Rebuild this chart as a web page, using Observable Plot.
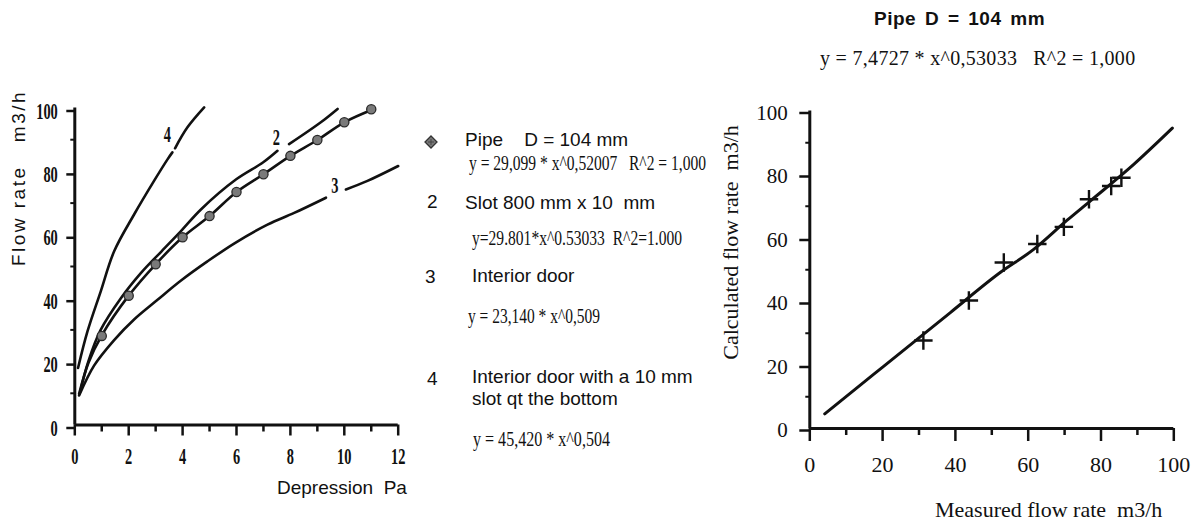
<!DOCTYPE html>
<html><head><meta charset="utf-8">
<script src="https://cdn.jsdelivr.net/npm/d3@7"></script>
<script src="https://cdn.jsdelivr.net/npm/@observablehq/plot@0.6"></script>
<style>
html,body{margin:0;padding:0;background:#fff;}
#page{position:relative;width:1195px;height:521px;overflow:hidden;background:#fff;}
#page svg.chart{position:absolute;top:0;}
.t{position:absolute;left:0;top:0;transform-origin:0 0;white-space:pre;line-height:1;color:#111;}
</style></head><body><div id="page"></div><script>
// ---------- Left chart data ----------
const depressionTicks = [0, 2, 4, 6, 8, 10, 12];
const depressionMinor = [1, 3, 5, 7, 9, 11];
const flowTicks = [0, 20, 40, 60, 80, 100];
const flowMinor = [10, 30, 50, 70, 90];

// Pipe D = 104 mm measured points
const pipeDepression = [1, 2, 3, 4, 5, 6, 7, 8, 9, 10, 11];
const pipeFlow = [28.1, 40.8, 50.7, 59.2, 65.9, 73.5, 79.1, 84.9, 89.9, 95.5, 99.6];
// Pipe fitted curve
const pipeCurveX = [0.16, 0.5, 1, 2, 3, 4, 5, 6, 7, 8, 9, 10, 11.1];
const pipeCurveY = [9.8, 19.5, 28.3, 40.8, 50.7, 59.2, 65.9, 73.5, 79.1, 84.9, 89.9, 95.5, 99.7];
// Curve 2: slot 800 mm x 10 mm (gap where label "2" sits)
const slotX = [0.2, 0.5, 0.96, 1.71, 2.45, 3.22, 3.93, 4.68, 5.99, 6.98, 7.52, 7.7, 7.95, 9.13, 9.75];
const slotY = [10.5, 20, 30, 40, 47.9, 54.8, 61.1, 68, 77.5, 82.8, 86.5, NaN, 88.6, 95.5, 99.7];
// Curve 3: interior door
const doorX = [0.16, 0.72, 1.46, 2.2, 3.07, 3.93, 4.92, 5.94, 7.15, 8.14, 9.32, 9.7, 10.06, 10.86, 12];
const doorY = [9.3, 18.8, 26.8, 33.3, 39.5, 45.5, 51.6, 57.4, 63.2, 66.9, 71.7, NaN, 74.3, 77, 81.7];
// Curve 4: interior door with a 10 mm slot at the bottom
const doorSlotX = [0.12, 0.47, 0.96, 1.46, 2.2, 2.94, 3.44, 3.62, 3.67, 3.72, 4.18, 4.8];
const doorSlotY = [18, 29.5, 42.1, 54.8, 66.4, 77, 83.8, 86, NaN, 87.3, 93.9, 100.2];
// Curve number labels
const curveLabels = ["4", "2", "3"];
const curveLabelX = [3.43, 7.48, 9.65];
const curveLabelY = [91.6, 90.8, 75.6];

// ---------- Right chart data ----------
const measuredTicks = [0, 20, 40, 60, 80, 100];
const measuredMinor = [10, 30, 50, 70, 90];
const calcTicks = [0, 20, 40, 60, 80, 100];
const calcMinor = [10, 30, 50, 70, 90];
const measured = [31.2, 43.7, 53.3, 62.5, 69.8, 76.7, 82.8, 85.6];
const calculated = [27.7, 40.3, 52.3, 58.1, 63.5, 72.2, 76.4, 79.0];
const fitX = [4.1, 17.6, 38.7, 52.4, 61.5, 70.7, 77.1, 89, 99.6];
const fitY = [4.6, 17.1, 36.6, 49.2, 56.4, 65.6, 71.7, 83.2, 94.6];

// ---------- helpers ----------
const SANS = '"Liberation Sans", Arial, sans-serif';
const SERIF = '"Liberation Serif", "Times New Roman", serif';
const page = document.getElementById("page");
const rows = (xs, ys) => xs.map((x, i) => ({x, y: ys[i]}));

function squeeze(svg, selector, s) {
  svg.querySelectorAll(selector).forEach(t => {
    const tr = t.getAttribute("transform") || "";
    const x = t.getAttribute("x");
    if (x != null) t.setAttribute("x", +x / s);
    t.setAttribute("transform", tr + ` scale(${s},1)`);
  });
}

function addText(str, o) {
  const d = document.createElement("div");
  d.className = "t";
  d.textContent = str;
  d.style.fontFamily = o.serif ? SERIF : SANS;
  d.style.fontSize = o.size + "px";
  if (o.weight) d.style.fontWeight = o.weight;
  if (o.ls) d.style.letterSpacing = o.ls + "px";
  if (o.ws) d.style.wordSpacing = o.ws + "px";
  page.appendChild(d);
  let sx = o.sx || 1;
  if (o.fit) sx = o.fit / d.getBoundingClientRect().width;
  const frac = o.anchor === "middle" ? 0.5 : o.anchor === "end" ? 1 : 0;
  const asc = o.serif ? 0.838 : 0.846;
  d.style.transform = `translate(${o.x}px, ${o.y}px) rotate(${o.rot || 0}deg) scale(${sx},1) translate(${-frac * 100}%, ${-asc}em)`;
  return d;
}

// ---------- Left chart ----------
const lineOpts = {x: "x", y: "y", stroke: "#111", strokeWidth: 2.6, curve: "catmull-rom"};
const leftSvg = Plot.plot({
  width: 410, height: 521,
  marginLeft: 74.3, marginRight: 12.3, marginTop: 107.5, marginBottom: 96.5,
  x: {domain: [0, 12]}, y: {domain: [0, 100]},
  style: {fontFamily: SERIF, color: "#111", background: "transparent", overflow: "visible"},
  marks: [
    Plot.axisX(depressionMinor, {tickSize: 7, strokeWidth: 2.5, tickFormat: () => "", label: null}),
    Plot.axisX(depressionTicks, {tickSize: 11, tickPadding: 11, strokeWidth: 2.5, fontSize: 24, fontWeight: "bold", label: null}),
    Plot.axisY(flowMinor, {tickSize: 4, strokeWidth: 2, tickFormat: () => "", label: null}),
    Plot.axisY(flowTicks, {tickSize: 8, tickPadding: 9, strokeWidth: 2.5, fontSize: 24, fontWeight: "bold", dy: 3, label: null}),
    Plot.ruleY([0], {strokeWidth: 3, stroke: "#111"}),
    Plot.ruleX([0], {strokeWidth: 3, stroke: "#111"}),
    Plot.line(rows(doorX, doorY), lineOpts),
    Plot.line(rows(doorSlotX, doorSlotY), lineOpts),
    Plot.line(rows(slotX, slotY), lineOpts),
    Plot.line(rows(pipeCurveX, pipeCurveY), lineOpts),
    Plot.dot(rows(pipeDepression, pipeFlow), {x: "x", y: "y", r: 4.6, fill: "#7a7a7a", stroke: "#2a2a2a", strokeWidth: 1.3}),
    Plot.text(curveLabels.map((t, i) => ({t, x: curveLabelX[i], y: curveLabelY[i]})),
      {x: "x", y: "y", text: "t", fontSize: 24, fontWeight: "bold", fill: "#111"})
  ]
});
leftSvg.classList.add("chart");
leftSvg.style.left = "0px";
squeeze(leftSvg, 'g[aria-label="x-axis tick label"] text, g[aria-label="y-axis tick label"] text, g[aria-label="text"] text', 0.6);
page.appendChild(leftSvg);

// ---------- Right chart ----------
const rightSvg = Plot.plot({
  width: 495, height: 521,
  marginLeft: 109.3, marginRight: 21.7, marginTop: 110.5, marginBottom: 93,
  x: {domain: [0, 100]}, y: {domain: [0, 100]},
  style: {fontFamily: SERIF, color: "#111", background: "transparent", overflow: "visible"},
  marks: [
    Plot.axisX(measuredMinor, {tickSize: 7, strokeWidth: 2.5, tickFormat: () => "", label: null}),
    Plot.axisX(measuredTicks, {tickSize: 13, tickPadding: 15, strokeWidth: 2.5, fontSize: 22, label: null}),
    Plot.axisY(calcMinor, {tickSize: 4, strokeWidth: 2, tickFormat: () => "", label: null}),
    Plot.axisY(calcTicks, {tickSize: 10, tickPadding: 12, strokeWidth: 2.5, fontSize: 21, dy: 2, label: null}),
    Plot.ruleY([0], {strokeWidth: 3, stroke: "#111"}),
    Plot.ruleX([0], {strokeWidth: 3, stroke: "#111"}),
    Plot.line(rows(fitX, fitY), {x: "x", y: "y", stroke: "#111", strokeWidth: 3, curve: "monotone-x"}),
    Plot.dot(rows(measured, calculated), {x: "x", y: "y", symbol: "plus", r: 6, stroke: "#111", strokeWidth: 2.4})
  ]
});
rightSvg.classList.add("chart");
rightSvg.style.left = "700px";
page.appendChild(rightSvg);

// ---------- Texts ----------
// left chart axis titles
addText("Flow rate   m3/h", {x: 25, y: 178, size: 19, ls: 2.5, rot: -90, anchor: "middle"});
addText("Depression  Pa", {x: 277, y: 494, size: 19});

// legend
const mk = document.createElementNS("http://www.w3.org/2000/svg", "svg");
mk.setAttribute("width", 14); mk.setAttribute("height", 14);
mk.style.position = "absolute"; mk.style.left = "424px"; mk.style.top = "135px";
mk.innerHTML = '<polygon points="7,1 13,7 7,13 1,7" fill="#7a7a7a" stroke="#333" stroke-width="1.3"/><path d="M4,7H10M7,4V10" stroke="#444" stroke-width="1"/>';
page.appendChild(mk);

addText("Pipe    D = 104 mm", {x: 465, y: 146, size: 19});
addText("y = 29,099 * x^0,52007   R^2 = 1,000", {x: 469, y: 170, size: 20, serif: true, fit: 237});
addText("2", {x: 427, y: 208, size: 19});
addText("Slot 800 mm x 10  mm", {x: 465, y: 209, size: 19});
addText("y=29.801*x^0.53033  R^2=1.000", {x: 472, y: 245, size: 20, serif: true, fit: 210});
addText("3", {x: 425, y: 283, size: 19});
addText("Interior door", {x: 472, y: 282, size: 19});
addText("y = 23,140 * x^0,509", {x: 468, y: 323, size: 20, serif: true, fit: 132});
addText("4", {x: 427, y: 385, size: 19});
addText("Interior door with a 10 mm", {x: 472, y: 383, size: 19});
addText("slot qt the bottom", {x: 472, y: 405, size: 19});
addText("y = 45,420 * x^0,504", {x: 473, y: 446, size: 20, serif: true, fit: 137});

// right chart texts
addText("Pipe D = 104 mm", {x: 959.5, y: 25, size: 19, weight: "bold", ls: 0.5, ws: 3, anchor: "middle"});
addText("y = 7,4727 * x^0,53033   R^2 = 1,000", {x: 820, y: 65, size: 20, serif: true, ls: 0.3});
addText("Calculated flow rate  m3/h", {x: 738, y: 242.5, size: 22, serif: true, rot: -90, anchor: "middle"});
addText("Measured flow rate  m3/h", {x: 935, y: 517, size: 22, serif: true});
</script></body></html>
